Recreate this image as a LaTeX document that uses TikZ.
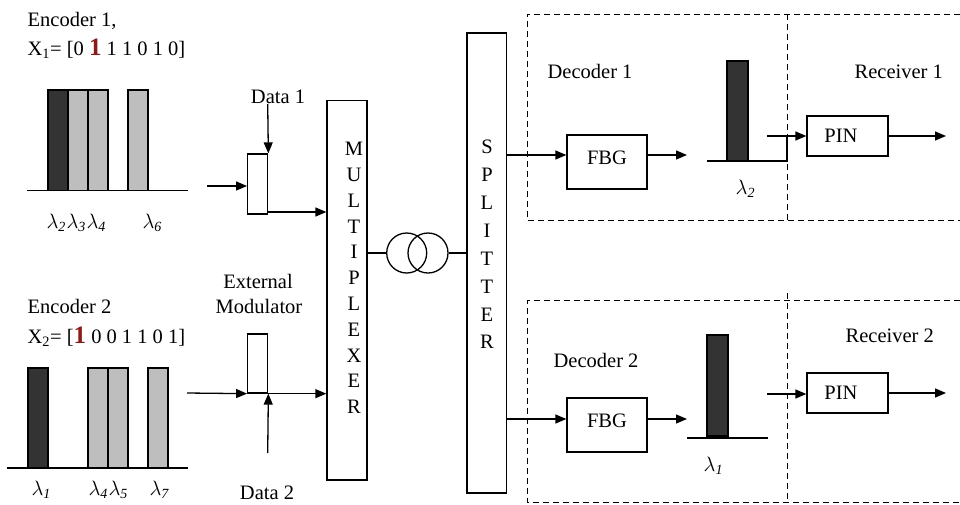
\documentclass[tikz,border=0pt]{standalone}
\usepackage{fontspec}
\setmainfont{Liberation Serif}
\usetikzlibrary{arrows.meta}
\definecolor{darkbar}{HTML}{333333}
\definecolor{lightbar}{HTML}{BEBEBE}
\definecolor{codered}{HTML}{8B1A1A}
\newcommand{\myredone}{\textcolor{codered}{\fontsize{25}{25}\selectfont\bfseries 1}}
\begin{document}
\begin{tikzpicture}[x=1pt,y=-1pt,
  line width=1.3pt,
  every node/.style={inner sep=0pt, font=\fontsize{20.5}{25}\selectfont},
  blockbox/.style={draw, rectangle, fill=white, line width=1.3pt},
  arr/.style={-{Triangle[length=11pt,width=9pt]}},
  dashbox/.style={dash pattern=on 6pt off 4pt, line width=1pt},
  bardark/.style={draw, fill=darkbar, line width=1.2pt},
  barlight/.style={draw, fill=lightbar, line width=1.2pt},
  lam/.style={anchor=north west, font=\fontsize{20}{20}\selectfont},
  vtext/.style={align=center},
]
\useasboundingbox (0,0) rectangle (960,504);

% ---------- Encoder 1 ----------
\node[anchor=base west] (enc1t) at (27,26) {Encoder 1,};
\node[anchor=base west] (x1t) at (27,55) {X\textsubscript{1}= [0 \myredone{} 1 1 0 1 0]};
\draw[bardark] (48,90) rectangle (68,190.7);
\draw[barlight] (68,90) rectangle (88,190.7);
\draw[barlight] (88,90) rectangle (108,190.7);
\draw[barlight] (128,90) rectangle (148,190.7);
\draw (27,190.7) -- (188,190.7);
\node[lam] (l12) at (46,213) {$\lambda_{\mathit{2}}$};
\node[lam] (l13) at (66,213) {$\lambda_{\mathit{3}}$};
\node[lam] (l14) at (86,213) {$\lambda_{\mathit{4}}$};
\node[lam] (l16) at (142,213) {$\lambda_{\mathit{6}}$};

% ---------- Encoder 2 ----------
\node[anchor=base west] (enc2t) at (27,313) {Encoder 2};
\node[anchor=base west] (x2t) at (27,343) {X\textsubscript{2}= [\myredone{} 0 0 1 1 0 1]};
\draw[bardark] (28,368) rectangle (48,468);
\draw[barlight] (88,368) rectangle (108,468);
\draw[barlight] (108,368) rectangle (128,468);
\draw[barlight] (148,368) rectangle (168,468);
\draw (7,468) -- (188,468);
\node[lam] (l21) at (31,480) {$\lambda_{\mathit{1}}$};
\node[lam] (l24) at (88,480) {$\lambda_{\mathit{4}}$};
\node[lam] (l25) at (108,480) {$\lambda_{\mathit{5}}$};
\node[lam] (l27) at (149,480) {$\lambda_{\mathit{7}}$};

% ---------- Modulators ----------
\node[blockbox, minimum width=20pt, minimum height=60pt] (mod1) at (257.7,184) {};
\node[blockbox, minimum width=20pt, minimum height=59pt] (mod2) at (257.7,363.5) {};
\node[anchor=base] (d1t) at (278,103) {Data 1};
\node[anchor=base] (d2t) at (267,499) {Data 2};
\node[anchor=base] (extt) at (258,288) {External};
\node[anchor=base] (modt) at (259,313) {Modulator};

% ---------- Multiplexer ----------
\node[blockbox, minimum width=40pt, minimum height=379.3pt] (mux) at (347,290.35) {};
\node[vtext, font=\fontsize{20.5}{25.8}\selectfont] (muxlbl) at (354,278) {M\\U\\L\\T\\I\\P\\L\\E\\X\\E\\R};

% ---------- Fibre coil ----------
\node[draw, circle, minimum size=40pt] (coil2) at (428,253) {};
\node[draw, circle, minimum size=40pt] (coil1) at (406.7,253) {};

% ---------- Splitter ----------
\node[blockbox, minimum width=39.7pt, minimum height=460pt] (split) at (486.85,263) {};
\node[vtext, font=\fontsize{20.5}{27.9}\selectfont] (spllbl) at (487,244.5) {S\\P\\L\\I\\T\\T\\E\\R};

% ---------- Dashed regions ----------
\draw[dashbox] (960,14) -- (527,14) -- (527,220) -- (960,220);
\draw[dashbox] (787,14) -- (787,220);
\draw[dashbox] (960,300.7) -- (527,300.7) -- (527,502) -- (960,502);
\draw[dashbox] (787,293) -- (787,502);
\node[anchor=base west] (dec1t) at (547,78) {Decoder 1};
\node[anchor=base west] (dec2t) at (553,367) {Decoder 2};
\node[anchor=base west] (rec1t) at (854,78) {Receiver 1};
\node[anchor=base west] (rec2t) at (845,342) {Receiver 2};

% ---------- Decoder 1 ----------
\node[blockbox, minimum width=80pt, minimum height=54pt] (fbg1) at (607,162) {};
\node (fbg1t) at (607,158) {FBG};
\draw[bardark] (727,61) rectangle (748,161);
\draw (707,161) -- (787,161) -- (787,136);
\node[lam] (ld2) at (735,179) {$\lambda_{\mathit{2}}$};
\node[blockbox, minimum width=81pt, minimum height=40pt] (pin1) at (847.5,136) {};
\node (pin1t) at (841,136) {PIN};

% ---------- Decoder 2 ----------
\node[blockbox, minimum width=80pt, minimum height=54pt] (fbg2) at (607,425) {};
\node (fbg2t) at (607,421) {FBG};
\draw[bardark] (707,335) rectangle (728,436);
\draw (687,438) -- (768,438);
\node[lam] (ld1) at (703,456) {$\lambda_{\mathit{1}}$};
\node[blockbox, minimum width=81pt, minimum height=40pt] (pin2) at (847.5,393) {};
\node (pin2t) at (841,393) {PIN};

% ---------- Free ends ----------
\coordinate (in1) at (207,186);
\coordinate (in2) at (187,393);
\coordinate (dat1) at (267.7,104);
\coordinate (dat2) at (267.7,453);
\coordinate (s1) at (530,155);
\coordinate (s2) at (530,419);
\coordinate (f1) at (687,155);
\coordinate (f2) at (687,419);
\coordinate (p1) at (767,136);
\coordinate (p2) at (767,394);
\coordinate (o1) at (946,136);
\coordinate (o2) at (946,393);

% ---------- Connectors ----------
\draw[arr] (in1) -- (in1 -| mod1.west);
\draw[arr] (dat1) -- (mod1.north east);
\draw[arr] (mod1.east |- 0,212) -- (mux.west |- 0,212);
\draw[arr] (in2) -- (mod2.south west);
\draw[arr] (mod2.south east) -- (mod2.south east -| mux.west);
\draw[arr] (dat2) -- (mod2.south east);
\draw (mux.east |- coil1.west) -- (coil1.west);
\draw (coil2.east) -- (coil2.east -| split.west);
\draw[arr] (split.east |- s1) -- (s1 -| fbg1.west);
\draw[arr] (fbg1.east |- f1) -- (f1);
\draw[arr] (p1) -- (pin1.west);
\draw[arr] (pin1.east) -- (o1);
\draw[arr] (split.east |- s2) -- (s2 -| fbg2.west);
\draw[arr] (fbg2.east |- f2) -- (f2);
\draw[arr] (p2) -- (p2 -| pin2.west);
\draw[arr] (pin2.east) -- (o2);
\end{tikzpicture}
\end{document}
